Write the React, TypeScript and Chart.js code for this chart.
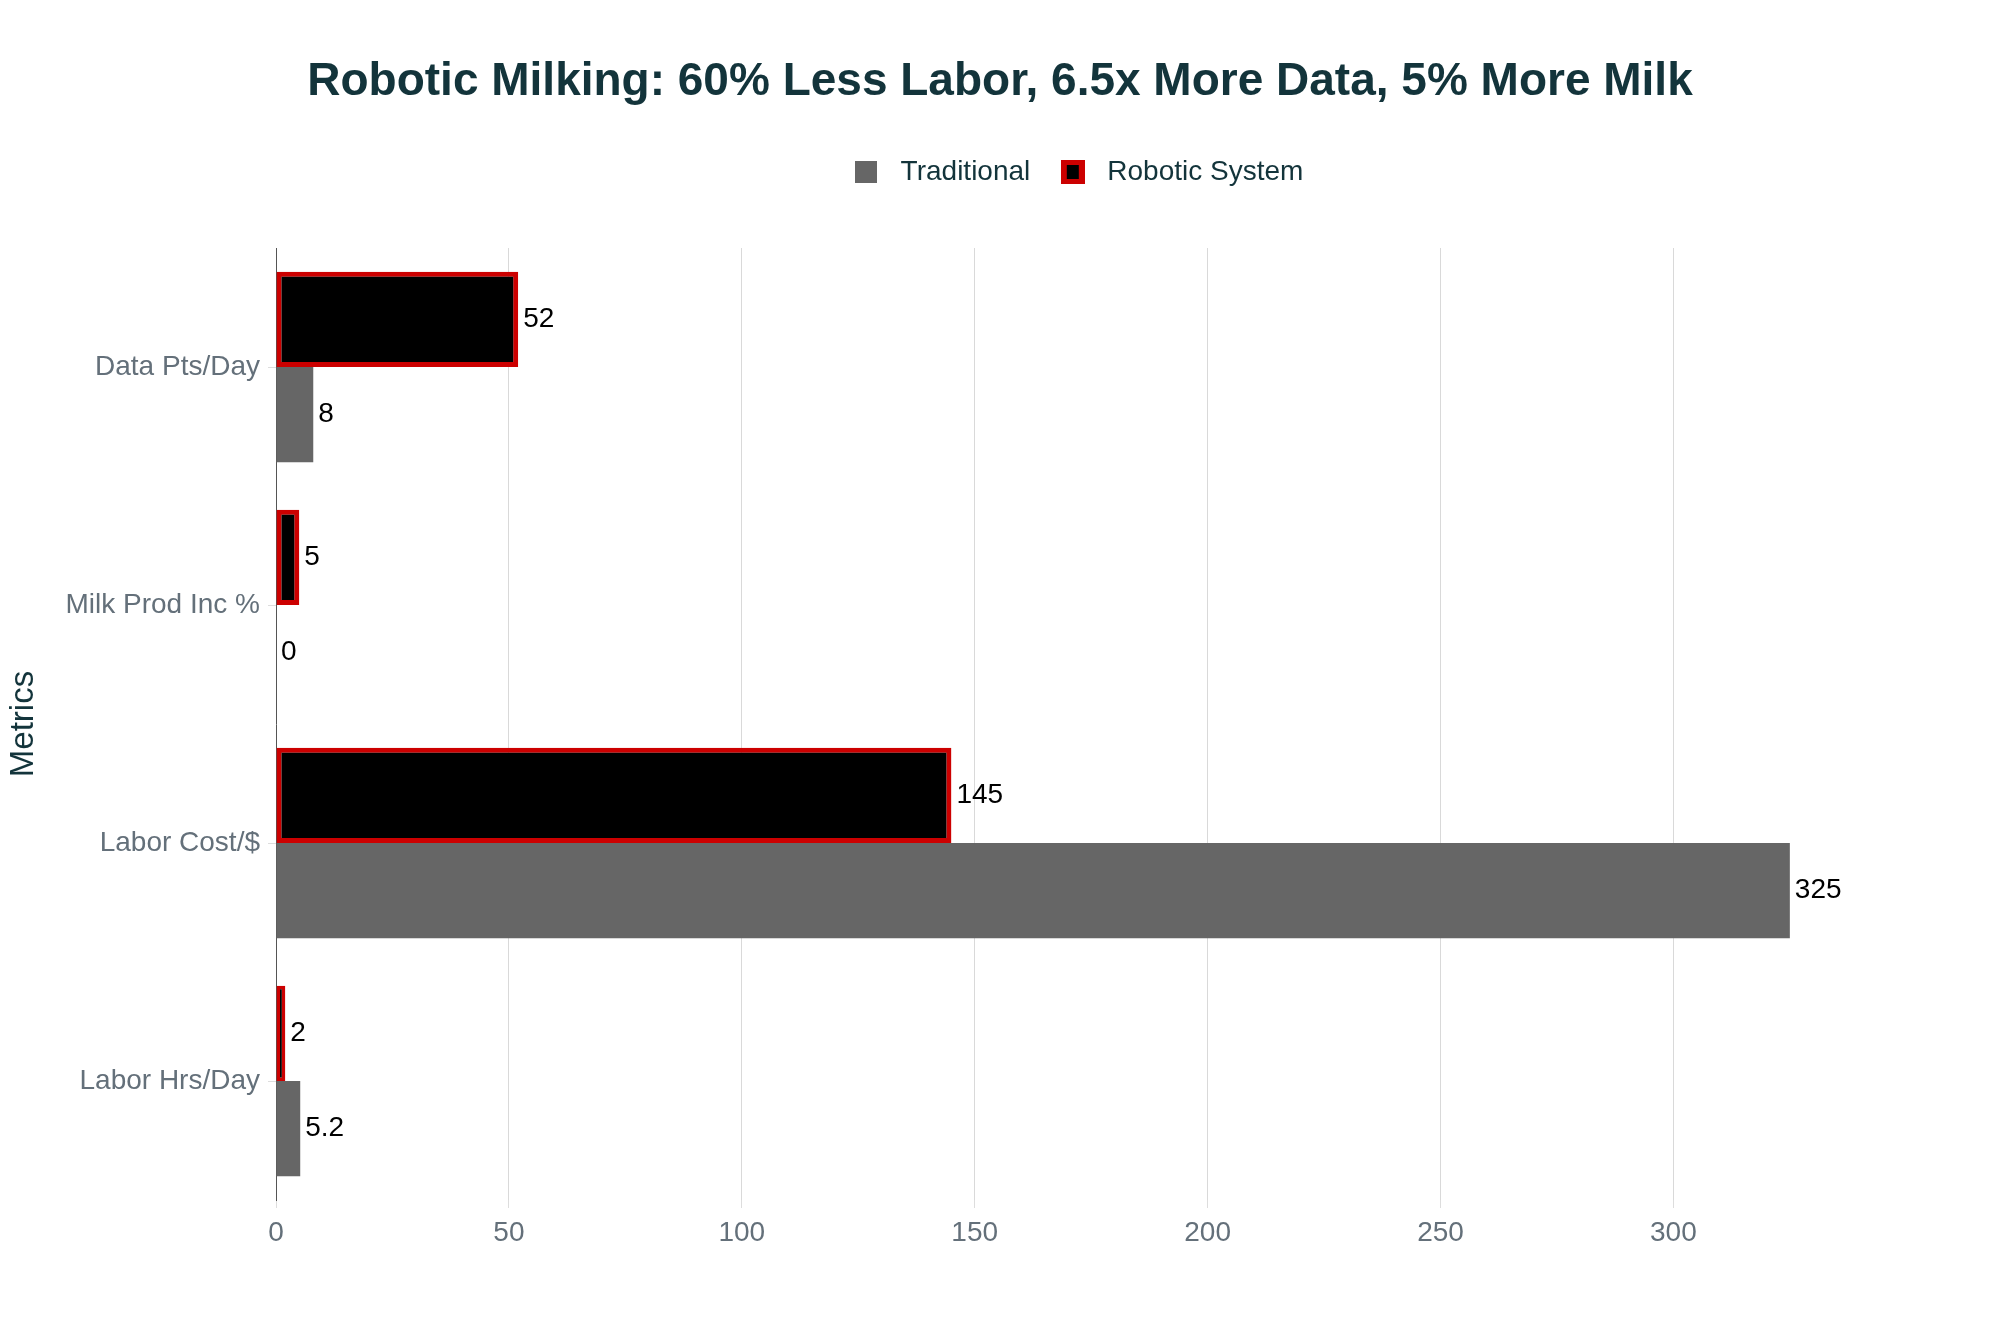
import React, { useEffect, useRef } from "react";
import { Chart, registerables } from "chart.js";

Chart.register(...registerables);

const categories = ["Data Pts/Day", "Milk Prod Inc %", "Labor Cost/$", "Labor Hrs/Day"];
const traditionalValues = [8, 0, 325, 5.2];
const roboticValues = [52, 5, 145, 2];
const xTickValues = [0, 50, 100, 150, 200, 250, 300];
const titleText = "Robotic Milking: 60% Less Labor, 6.5x More Data, 5% More Milk";
const seriesNames = ["Traditional", "Robotic System"];

const FONT = "'Liberation Sans', Arial, Helvetica, sans-serif";
const DARK = "#13343B";
const GREY_TXT = "#64707a";

function makeIcon(size: number, outer: string, inner: string | null, iw: number, ih: number) {
  const c = document.createElement("canvas");
  c.width = size;
  c.height = size;
  const g = c.getContext("2d")!;
  g.fillStyle = outer;
  g.fillRect(0, 0, size, size);
  if (inner) {
    g.fillStyle = inner;
    g.fillRect((size - iw) / 2, (size - ih) / 2, iw, ih);
  }
  return c;
}

const valueLabels = {
  id: "valueLabels",
  afterDatasetsDraw(chart: any) {
    const ctx = chart.ctx;
    ctx.save();
    ctx.font = `28px ${FONT}`;
    ctx.fillStyle = "#000";
    ctx.textAlign = "left";
    ctx.textBaseline = "middle";
    chart.data.datasets.forEach((ds: any, i: number) => {
      const meta = chart.getDatasetMeta(i);
      meta.data.forEach((bar: any, j: number) => {
        const v = ds.data[j];
        ctx.fillText(String(v), bar.x + 5, bar.y);
      });
    });
    ctx.restore();
  },
};

// centre the title on the whole canvas and nudge the legend like the original
const layoutTweaks = {
  id: "layoutTweaks",
  afterLayout(chart: any) {
    if (chart.titleBlock) {
      chart.titleBlock.left = 0;
      chart.titleBlock.right = chart.width;
    }
    if (chart.legend) {
      chart.legend.left -= 10;
    }
  },
};

export default function App() {
  const ref = useRef<HTMLCanvasElement | null>(null);

  useEffect(() => {
    if (!ref.current) return;
    const greyIcon = makeIcon(22, "#666666", null, 0, 0);
    const redIcon = makeIcon(24, "#CC0000", "#000000", 12, 14);

    const chart = new Chart(ref.current, {
      type: "bar",
      data: {
        labels: categories,
        datasets: [
          {
            label: seriesNames[1],
            data: roboticValues,
            backgroundColor: "#000000",
            borderColor: "#CC0000",
            borderWidth: (c: any) => (c.raw !== undefined && c.raw < 3 ? 3.5 : 5),
            borderSkipped: false,
            categoryPercentage: 0.8,
            barPercentage: 1,
          },
          {
            label: seriesNames[0],
            data: traditionalValues,
            backgroundColor: "#666666",
            borderWidth: 0,
            categoryPercentage: 0.8,
            barPercentage: 1,
          },
        ],
      },
      options: {
        indexAxis: "y",
        animation: false,
        responsive: false,
        devicePixelRatio: 1,
        layout: { padding: { left: 0, right: 117, top: 0, bottom: 0 } },
        scales: {
          x: {
            type: "linear",
            min: 0,
            max: 345,
            afterFit: (s: any) => {
              s.height = 133;
            },
            afterBuildTicks: (s: any) => {
              s.ticks = xTickValues.map((v) => ({ value: v }));
            },
            ticks: {
              color: GREY_TXT,
              font: { family: FONT, size: 28 },
              padding: 8,
              maxRotation: 0,
            },
            grid: {
              color: (c: any) => (c.tick && c.tick.value === 0 ? "rgba(0,0,0,0)" : "#d9d9d9"),
              tickColor: "#dddddd",
              tickLength: 8,
              lineWidth: 1,
            },
            border: { display: false },
          },
          y: {
            type: "category",
            afterFit: (s: any) => {
              s.width = 276;
            },
            ticks: {
              color: GREY_TXT,
              font: { family: FONT, size: 28 },
              padding: 8,
            },
            grid: {
              display: true,
              drawOnChartArea: false,
              offset: false,
              color: "#dddddd",
              tickLength: 8,
            },
            border: { display: true, color: "#555555", width: 1 },
            title: {
              display: true,
              text: "Metrics",
              color: DARK,
              font: { family: FONT, size: 33 },
              padding: { top: 4, bottom: 4 },
            },
          },
        },
        plugins: {
          title: {
            display: true,
            text: titleText,
            color: DARK,
            font: { family: FONT, size: 46, weight: "bold" },
            padding: { top: 55, bottom: 25.8 },
          },
          subtitle: {
            display: true,
            text: "",
            weight: 500,
            font: { size: 1 },
            padding: { top: 0, bottom: 50.8 },
          } as any,
          legend: {
            display: true,
            position: "top",
            fullSize: false,
            labels: {
              color: DARK,
              font: { family: FONT, size: 28 },
              usePointStyle: true,
              pointStyleWidth: 41,
              padding: 22,
              generateLabels: () => [
                {
                  text: seriesNames[0],
                  pointStyle: greyIcon as any,
                  fillStyle: "#666666",
                  strokeStyle: "#666666",
                  lineWidth: 0,
                  hidden: false,
                  datasetIndex: 1,
                  fontColor: DARK,
                },
                {
                  text: seriesNames[1],
                  pointStyle: redIcon as any,
                  fillStyle: "#000000",
                  strokeStyle: "#CC0000",
                  lineWidth: 0,
                  hidden: false,
                  datasetIndex: 0,
                  fontColor: DARK,
                },
              ],
            },
          },
          tooltip: { enabled: false },
        },
      },
      plugins: [valueLabels, layoutTweaks],
    } as any);

    return () => chart.destroy();
  }, []);

  return (
    <div style={{ position: "absolute", left: 0, top: 0, width: 2000, height: 1333, background: "#fff" }}>
      <canvas ref={ref} width={2000} height={1333} style={{ display: "block", width: 2000, height: 1333 }} />
    </div>
  );
}
